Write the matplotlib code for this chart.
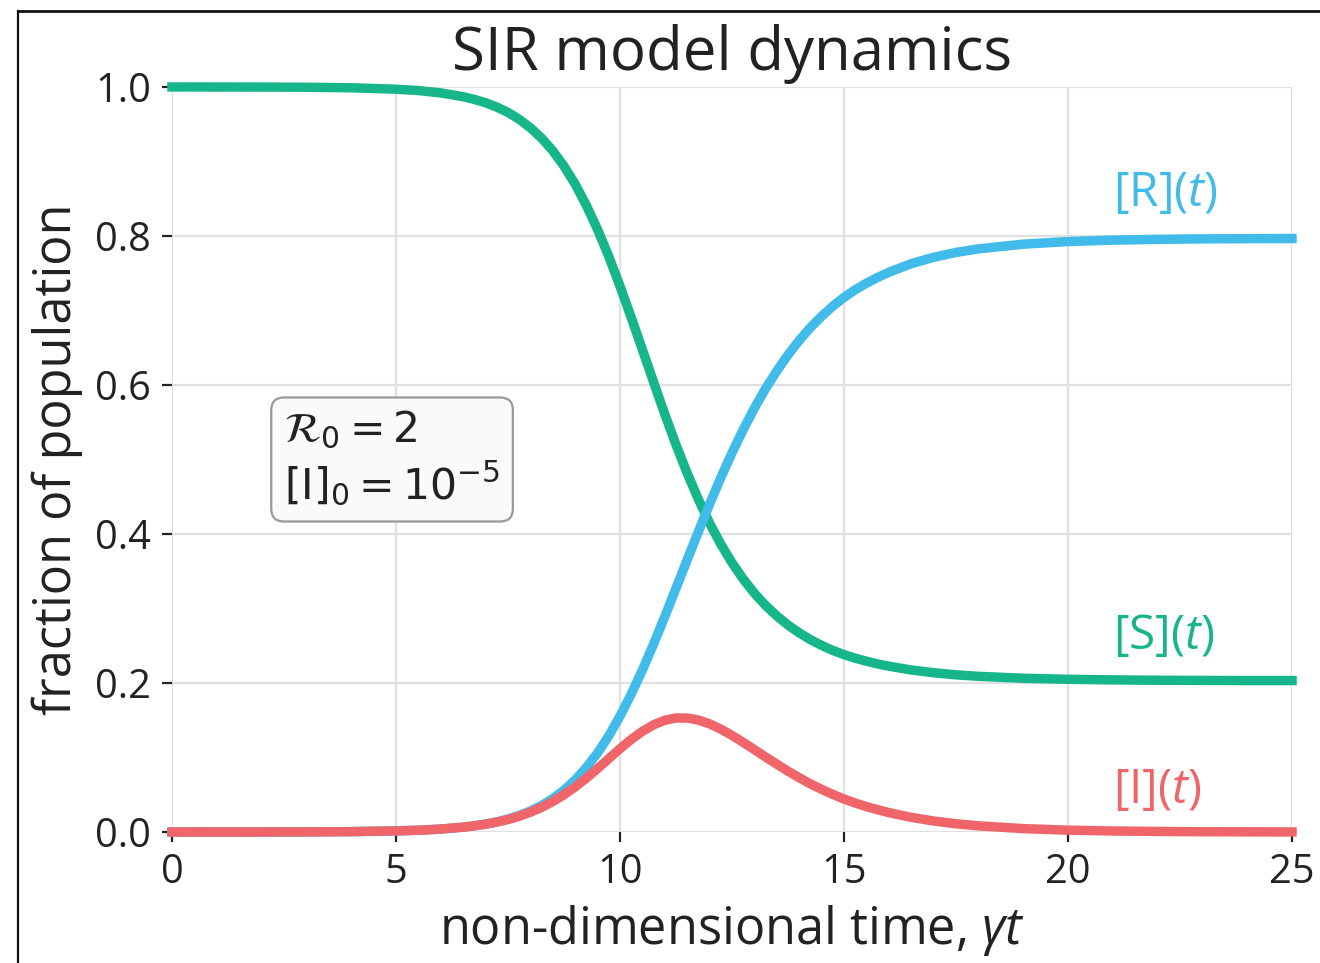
import numpy as np
import matplotlib
matplotlib.use("Agg")
import matplotlib.pyplot as plt
from matplotlib.lines import Line2D

plt.rcParams['font.family'] = ['Open Sans', 'DejaVu Sans']
plt.rcParams['mathtext.fontset'] = 'custom'
plt.rcParams['mathtext.rm'] = 'Open Sans'
plt.rcParams['mathtext.it'] = 'Open Sans:italic'

# SIR trajectories (fractions of population) at sampled times
t = [0, 1, 2, 3, 4, 5, 5.5, 6, 6.5, 6.75, 7, 7.25, 7.5, 7.75, 8, 8.25, 8.5, 8.75,
     9, 9.25, 9.5, 9.75, 10, 10.25, 10.5, 10.75, 11, 11.25, 11.5, 11.75, 12, 12.25,
     12.5, 12.75, 13, 13.25, 13.5, 13.75, 14, 14.25, 14.5, 14.75, 15, 15.25, 15.5,
     15.75, 16, 16.5, 17, 17.5, 18, 19, 20, 21, 22, 23, 24, 25]
S = [1.0000, 0.99995, 0.99987, 0.9996, 0.9989, 0.9970, 0.9952, 0.9920, 0.9869,
     0.9833, 0.9788, 0.9730, 0.9658, 0.9566, 0.9452, 0.9313, 0.9143, 0.8937,
     0.8695, 0.8410, 0.8086, 0.7724, 0.7327, 0.6906, 0.6474, 0.6038, 0.5608,
     0.5197, 0.4816, 0.4465, 0.4146, 0.3863, 0.3614, 0.3395, 0.3205, 0.3041,
     0.2901, 0.2778, 0.2673, 0.2582, 0.2505, 0.2437, 0.2381, 0.2333, 0.2293,
     0.2256, 0.2226, 0.2175, 0.2138, 0.2110, 0.2090, 0.2064, 0.2050, 0.2042,
     0.2037, 0.2035, 0.2033, 0.2033]
I = [0.00001, 0.00003, 0.00007, 0.0002, 0.00055, 0.0015, 0.0024, 0.0040, 0.0065,
     0.0083, 0.0105, 0.0133, 0.0168, 0.0212, 0.0266, 0.0331, 0.0409, 0.0501,
     0.0606, 0.0724, 0.0852, 0.0985, 0.1118, 0.1243, 0.1352, 0.1439, 0.1500,
     0.1531, 0.1530, 0.1503, 0.1452, 0.1381, 0.1297, 0.1204, 0.1106, 0.1007,
     0.0911, 0.0817, 0.0729, 0.0647, 0.0573, 0.0505, 0.0443, 0.0389, 0.0341,
     0.0300, 0.0261, 0.0197, 0.0148, 0.0111, 0.0083, 0.0046, 0.0025, 0.0014,
     0.0008, 0.0004, 0.0003, 0.0001]
R = [0.0000, 0.00002, 0.00006, 0.00019, 0.00054, 0.00147, 0.0024, 0.0040, 0.0066,
     0.0084, 0.0107, 0.0137, 0.0174, 0.0222, 0.0282, 0.0356, 0.0448, 0.0562,
     0.0699, 0.0866, 0.1062, 0.1291, 0.1555, 0.1851, 0.2174, 0.2523, 0.2892,
     0.3272, 0.3654, 0.4032, 0.4402, 0.4756, 0.5089, 0.5401, 0.5689, 0.5952,
     0.6188, 0.6405, 0.6598, 0.6771, 0.6922, 0.7058, 0.7176, 0.7278, 0.7366,
     0.7444, 0.7513, 0.7628, 0.7714, 0.7779, 0.7827, 0.7890, 0.7925, 0.7944,
     0.7955, 0.7961, 0.7964, 0.7966]

green = '#17b68a'
blue = '#41bbea'
red = '#ef6569'

fig = plt.figure(figsize=(6.6, 4.815), dpi=200)
ax = fig.add_axes([0.1303, 0.1360, 0.8485, 0.7737])

line_kw = dict(lw=3.4, clip_on=False, solid_joinstyle='round')
ax.plot(t, S, color=green, zorder=3, **line_kw)
ax.plot(t, R, color=blue, zorder=3, **line_kw)
ax.plot(t, I, color=red, zorder=4, **line_kw)

ax.set_xlim(0, 25)
ax.set_ylim(0, 1)
ax.set_xticks([0, 5, 10, 15, 20, 25])
ax.set_yticks([0.0, 0.2, 0.4, 0.6, 0.8, 1.0])
ax.set_yticklabels(['0.0', '0.2', '0.4', '0.6', '0.8', '1.0'])
ax.tick_params(labelsize=14.3, length=3.5, width=0.8, pad=4, colors='#222222')
for side in ax.spines:
    ax.spines[side].set_visible(False)
ax.grid(True, color='#e0e0e0', lw=0.8, zorder=0)
ax.set_axisbelow(True)

ax.set_title('SIR model dynamics', fontsize=21.6, pad=6, color='#222222')
ax.set_xlabel(r'non-dimensional time, $\gamma t$', fontsize=18.2, labelpad=3.5,
              color='#222222')
ax.set_ylabel('fraction of population', fontsize=18.2, labelpad=4.5, color='#222222')

ax.text(21.0, 0.858, r'[R]($t$)', color=blue, fontsize=17.2, va='center', ha='left')
ax.text(21.0, 0.263, r'[S]($t$)', color=green, fontsize=17.2, va='center', ha='left')
ax.text(21.0, 0.056, r'[I]($t$)', color=red, fontsize=17.2, va='center', ha='left')

ax.text(2.5, 0.50, '$\\mathcal{R}_0 = 2$\n$[\\mathrm{I}]_0 = 10^{-5}$',
        fontsize=15.3, va='center', ha='left', math_fontfamily='dejavusans',
        color='#222222', linespacing=1.2,
        bbox=dict(boxstyle='round,pad=0.3', fc='#fbfaf8', ec='#999999', lw=0.8))

# frame lines along the top and left edges of the figure
fig.add_artist(Line2D([18 / 1320, 1], [1 - 11 / 963, 1 - 11 / 963],
                      transform=fig.transFigure, color='#111111', lw=1.0))
fig.add_artist(Line2D([18 / 1320, 18 / 1320], [0, 1 - 11 / 963],
                      transform=fig.transFigure, color='#111111', lw=0.8))

fig.savefig('out.png', dpi=200)
